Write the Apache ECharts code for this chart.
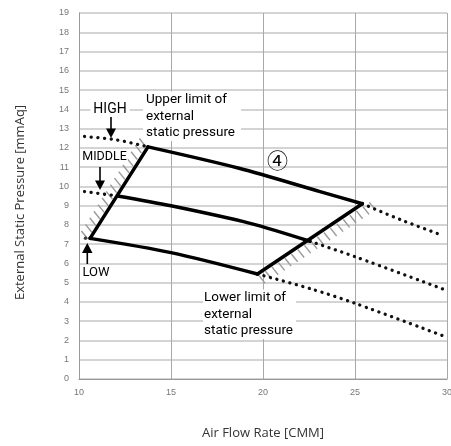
<!DOCTYPE html>
<html>
<head>
<meta charset="utf-8">
<script src="https://cdn.jsdelivr.net/npm/echarts@6/dist/echarts.min.js"></script>
<style>
html,body{margin:0;padding:0;background:#fff;}
#chart{width:451px;height:446px;}
</style>
</head>
<body>
<div id="chart"></div>
<script>
// ---- data ----
const xTicks = [10, 15, 20, 25, 30];
const yTicks = [0,1,2,3,4,5,6,7,8,9,10,11,12,13,14,15,16,17,18,19];

const highCurve = [[13.75, 12.05], [18.7, 10.94], [23.1, 9.73], [25.4, 9.1]];
const midCurve  = [[12.1, 9.5], [15, 8.99], [19.3, 8.08], [22.55, 7.15]];
const lowCurve  = [[10.6, 7.3], [15, 6.56], [19.7, 5.45]];

const minEdge = [[10.6, 7.3], [13.75, 12.05]];
const maxEdge = [[19.7, 5.45], [25.4, 9.1]];

const highDotsLeft  = [[10.3, 12.59], [12, 12.42], [13.75, 12.05]];
const highDotsRight = [[25.4, 9.1], [27.5, 8.26], [29.8, 7.44]];
const midDotsLeft   = [[10.3, 9.73], [12.1, 9.5]];
const midDotsRight  = [[22.55, 7.15], [25, 6.35], [29.8, 4.66]];
const lowDotsLeft   = [[10.35, 7.31]];
const lowDotsRight  = [[19.7, 5.45], [22.6, 4.68], [25, 3.93], [29.9, 2.2]];

const hatchEdges = [
  [10.55, 7.2, 13.7, 12.0],
  [19.7, 5.45, 25.7, 9.25]
];

// ---- chart ----
const chart = echarts.init(document.getElementById('chart'), null, {renderer: 'canvas'});

const solid = (data, smooth) => ({
  type: 'line', data: data, smooth: smooth ? 0.3 : false, symbol: 'none', z: 5,
  lineStyle: {color: '#000', width: 3.5, cap: 'round', join: 'round'}
});
const dotted = (data) => ({
  type: 'line', data: data, smooth: 0.3, symbol: 'none', z: 4,
  lineStyle: {color: '#111', width: 3.3, type: [0.1, 6.6], cap: 'round'}
});

const annFont = 'Roboto, "Liberation Sans", sans-serif';

const option = {
  animation: false,
  backgroundColor: '#fff',
  grid: {left: 79, right: 4, top: 13, bottom: 67, containLabel: false, outerBoundsMode: 'none'},
  xAxis: {
    type: 'value', min: 10, max: 30, interval: 5,
    name: 'Air Flow Rate [CMM]', nameLocation: 'middle', nameGap: 48,
    nameTextStyle: {fontFamily: '"Open Sans", sans-serif', fontSize: 13, color: '#333'},
    axisLine: {show: true, lineStyle: {color: '#999', width: 1}},
    axisTick: {show: false},
    axisLabel: {margin: 9, fontSize: 9, color: '#777', fontFamily: '"Liberation Sans", sans-serif',
      formatter: v => xTicks.includes(v) ? String(v) : ''},
    splitLine: {show: true, lineStyle: {color: '#a8a8a8', width: 1}}
  },
  yAxis: {
    type: 'value', min: 0, max: 19, interval: 1,
    axisLine: {show: true, lineStyle: {color: '#999', width: 1}},
    axisTick: {show: false},
    axisLabel: {margin: 10, fontSize: 9, color: '#777', fontFamily: '"Liberation Sans", sans-serif',
      formatter: v => yTicks.includes(v) ? String(v) : ''},
    splitLine: {show: true, lineStyle: {color: '#c6c6c6', width: 1.6}}
  },
  series: [
    {
      type: 'custom', data: hatchEdges, z: 3,
      encode: {x: [0, 2], y: [1, 3]},
      renderItem: function (params, api) {
        const p1 = api.coord([api.value(0), api.value(1)]);
        const p2 = api.coord([api.value(2), api.value(3)]);
        const side = params.dataIndex === 0 ? -1 : 1;
        const dx = p2[0] - p1[0], dy = p2[1] - p1[1];
        const len = Math.hypot(dx, dy);
        const n = Math.floor(len / 7.5);
        const children = [];
        const L = 10;
        for (let i = 0; i <= n; i++) {
          const t = i / n;
          const x = p1[0] + dx * t + side * 1.5, y = p1[1] + dy * t + side * 1.5;
          children.push({
            type: 'line',
            shape: {x1: x, y1: y, x2: x + side * 0.62 * L, y2: y + side * 0.78 * L},
            style: {stroke: '#9a9a9a', lineWidth: 1.4}
          });
        }
        return {type: 'group', children: children};
      }
    },
    dotted(highDotsLeft), dotted(highDotsRight),
    dotted(midDotsLeft), dotted(midDotsRight),
    dotted(lowDotsRight),
    {type: 'scatter', data: lowDotsLeft, symbol: 'circle', symbolSize: 3.4, z: 4, itemStyle: {color: '#111'}},
    solid(highCurve, true), solid(midCurve, true), solid(lowCurve, true),
    solid(minEdge, false), solid(maxEdge, false)
  ],
  graphic: [
    // y axis title
    {type: 'text', x: 20, y: 202.5, rotation: Math.PI / 2, style: {text: 'External Static Pressure [mmAq]',
      font: '13px "Open Sans", sans-serif', fill: '#333', align: 'center', verticalAlign: 'middle'}},
    // HIGH label + arrow
    {type: 'text', x: 110, y: 109, z: 10, style: {text: 'HIGH', font: '14px ' + annFont, fill: '#000',
      align: 'center', verticalAlign: 'middle', backgroundColor: '#fff', padding: [2, 3]}},
    {type: 'line', z: 10, shape: {x1: 111, y1: 117, x2: 111, y2: 131}, style: {stroke: '#000', lineWidth: 1.6}},
    {type: 'polygon', z: 10, shape: {points: [[106, 128.5], [116, 128.5], [111, 138]]}, style: {fill: '#000'}},
    // Upper limit box
    {type: 'text', x: 143, y: 91.5, z: 10, style: {text: 'Upper limit of\nexternal\nstatic pressure',
      font: '13.5px ' + annFont, lineHeight: 16.5, fill: '#000', align: 'left', verticalAlign: 'top',
      backgroundColor: '#fff', padding: [0, 6, 0, 3]}},
    // MIDDLE label + arrow
    {type: 'text', x: 104.5, y: 157, z: 10, style: {text: 'MIDDLE', font: '12.5px ' + annFont, fill: '#000',
      align: 'center', verticalAlign: 'middle', backgroundColor: '#fff', padding: [1, 1]}},
    {type: 'line', z: 10, shape: {x1: 100, y1: 167, x2: 100, y2: 183}, style: {stroke: '#000', lineWidth: 1.6}},
    {type: 'polygon', z: 10, shape: {points: [[95, 180.5], [105, 180.5], [100, 190]]}, style: {fill: '#000'}},
    // LOW label + arrow
    {type: 'polygon', z: 10, shape: {points: [[82, 253], [92.5, 253], [87.3, 243]]}, style: {fill: '#000'}},
    {type: 'line', z: 10, shape: {x1: 87.3, y1: 251, x2: 87.3, y2: 264}, style: {stroke: '#000', lineWidth: 1.6}},
    {type: 'text', x: 96, y: 272.5, z: 10, style: {text: 'LOW', font: '13px ' + annFont, fill: '#000',
      align: 'center', verticalAlign: 'middle'}},
    // circled 4
    {type: 'text', x: 277.5, y: 160.5, z: 10, style: {text: '④', font: '21px "Noto Sans CJK JP", sans-serif', fill: '#000',
      align: 'center', verticalAlign: 'middle'}},
    // Lower limit box
    {type: 'text', x: 203, y: 289.5, z: 10, style: {text: 'Lower limit of\nexternal\nstatic pressure',
      font: '13.5px ' + annFont, lineHeight: 16.5, fill: '#000', align: 'left', verticalAlign: 'top',
      backgroundColor: '#fff', padding: [0, 3, 0, 1]}}
  ]
};
chart.setOption(option);
</script>
</body>
</html>
